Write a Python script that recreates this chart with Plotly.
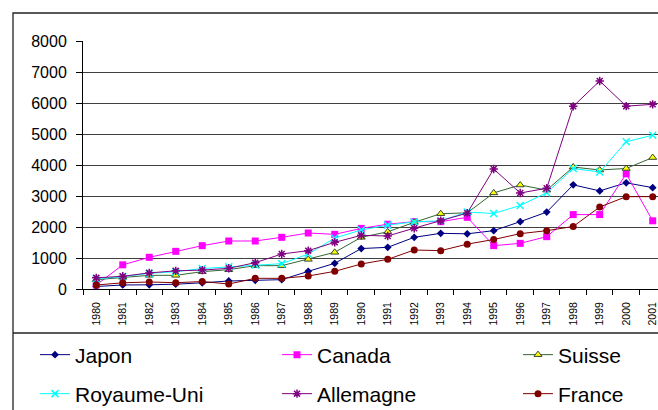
import plotly.graph_objects as go

# Years on the category axis
years = [str(y) for y in range(1980, 2002)]

# Series values per country
japon = [80, 130, 135, 155, 200, 258, 280, 301, 570, 828, 1305, 1344, 1667, 1796,
         1780, 1882, 2172, 2480, 3360, 3165, 3425, 3269]
canada = [130, 780, 1022, 1215, 1398, 1548, 1548, 1667, 1806, 1763, 1955, 2090, 2172,
          2172, 2312, 1398, 1473, 1688, 2400, 2400, 3715, 2200]
suisse = [300, 376, 441, 441, 559, 624, 753, 753, 957, 1183, 1667, 1845, 2150, 2430,
          2455, 3100, 3355, 3190, 3935, 3839, 3888, 4240]
royaume_uni = [330, 398, 505, 559, 660, 720, 774, 817, 1129, 1645, 1903, 2060, 2165,
               2200, 2485, 2435, 2695, 3107, 3887, 3774, 4748, 4962]
allemagne = [360, 410, 520, 585, 610, 667, 849, 1129, 1237, 1505, 1731, 1710, 1962,
             2205, 2447, 3871, 3097, 3248, 5892, 6710, 5898, 5957]
france = [129, 200, 226, 204, 240, 161, 344, 344, 419, 570, 806, 957, 1258, 1237,
          1447, 1597, 1785, 1882, 2016, 2645, 2979, 2979]

y_ticks = [0, 1000, 2000, 3000, 4000, 5000, 6000, 7000, 8000]

FONT = "Liberation Sans, Arial, sans-serif"

series = [
    # name, values, line colour, marker dict
    ("Japon", japon, "#000080",
     dict(symbol="diamond", size=6, color="#000080")),
    ("Canada", canada, "#FF00FF",
     dict(symbol="square", size=7, color="#FF00FF")),
    ("Suisse", suisse, "#336633",
     dict(symbol="triangle-up", size=7, color="#FFFF00",
          line=dict(color="#334433", width=1))),
    ("Royaume-Uni", royaume_uni, "#00FFFF",
     dict(symbol="x-thin", size=7, color="#00FFFF",
          line=dict(color="#00FFFF", width=1.5))),
    ("Allemagne", allemagne, "#800080",
     dict(symbol="asterisk", size=7, color="#800080",
          line=dict(color="#800080", width=1.5))),
    ("France", france, "#800000",
     dict(symbol="circle", size=7, color="#800000")),
]

# Legend grid: 3 columns x 2 rows, one legend box per entry (pixel anchors)
legend_cols = [35, 277, 518]
legend_rows = [355, 394]

legend_common = dict(
    orientation="h", xref="container", yref="container",
    xanchor="left", yanchor="middle",
    font=dict(family=FONT, size=21, color="#000000"),
    bgcolor="rgba(0,0,0,0)", borderwidth=0, itemwidth=30,
)

fig = go.Figure()
legend_layout = {}
for i, (name, vals, col, marker) in enumerate(series):
    key = "legend" if i == 0 else f"legend{i + 1}"
    fig.add_trace(go.Scatter(
        x=years, y=vals, name=name, mode="lines+markers",
        line=dict(color=col, width=1), marker=marker, legend=key,
    ))
    cx = legend_cols[i % 3]
    cy = legend_rows[i // 3]
    legend_layout[key] = dict(x=cx / 658, y=1 - cy / 410, **legend_common)

# Outer chart frame and legend separator (pixel -> paper conversion)
L, T, W, H = 83, 41, 575, 248
def px(x):
    return (x - L) / W
def py(y):
    return (T + H - y) / H

fig.add_shape(type="rect", xref="paper", yref="paper",
              x0=px(13), x1=px(700), y0=py(13), y1=py(500),
              line=dict(color="#222222", width=1.3), layer="below")
fig.add_shape(type="line", xref="paper", yref="paper",
              x0=px(13), x1=px(700), y0=py(333), y1=py(333),
              line=dict(color="#222222", width=1.3), layer="below")

fig.update_layout(
    width=658, height=410,
    margin=dict(l=L, r=0, t=T, b=410 - T - H, autoexpand=False),
    paper_bgcolor="white", plot_bgcolor="white",
    font=dict(family=FONT, color="#000000"),
    showlegend=True,
    xaxis=dict(
        type="category", range=[-0.5, 21.2], automargin=False,
        showline=True, linecolor="#000000", linewidth=1,
        ticks="outside", ticklen=5, tickcolor="#000000", tickson="boundaries",
        tickangle=-90, tickfont=dict(family=FONT, size=10.5),
        showgrid=False, zeroline=False, ticklabelstandoff=8,
    ),
    yaxis=dict(
        range=[0, 8000], tickvals=y_ticks, automargin=False,
        showline=True, linecolor="#000000", linewidth=1,
        ticks="outside", ticklen=6, tickcolor="#000000",
        tickfont=dict(family=FONT, size=16),
        showgrid=True, gridcolor="#404040", gridwidth=1,
        zeroline=False, ticklabelstandoff=6,
    ),
    **legend_layout,
)

fig.write_html("out.html")
